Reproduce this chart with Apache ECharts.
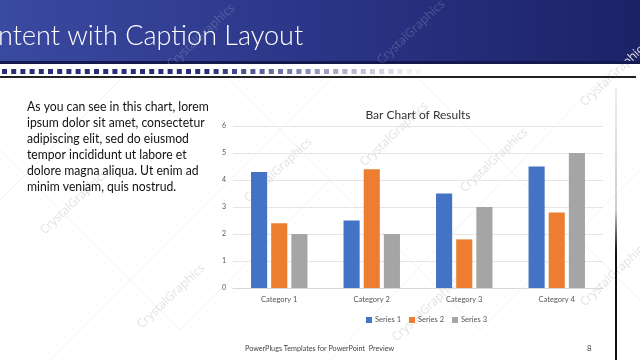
<!DOCTYPE html>
<html><head><meta charset="utf-8">
<script src="https://cdn.jsdelivr.net/npm/echarts@6/dist/echarts.min.js"></script>
<style>html,body{margin:0;padding:0;background:#fff}#c{width:640px;height:360px}</style>
</head><body><div id="c"></div>
<script>
var categories = ['Category 1', 'Category 2', 'Category 3', 'Category 4'];
var seriesNames = ['Series 1', 'Series 2', 'Series 3'];
var series1 = [4.3, 2.5, 3.5, 4.5];
var series2 = [2.4, 4.4, 1.8, 2.8];
var series3 = [2, 2, 3, 5];
var colors = ['#4472C4', '#ED7D31', '#A5A5A5'];
var headerTitle = 'ntent with Caption Layout';
var bodyLines = ['As you can see in this chart, lorem', 'ipsum dolor sit amet, consectetur', 'adipiscing elit, sed do eiusmod', 'tempor incididunt ut labore et', 'dolore magna aliqua. Ut enim ad', 'minim veniam, quis nostrud.'];
var footerText = 'PowerPlugs Templates for PowerPoint  Preview';
var pageNum = '8';
var watermark = 'CrystalGraphics';

var chart = echarts.init(document.getElementById('c'));
var g = [];
// header band
g.push({type:'rect', shape:{x:0,y:0,width:640,height:64}, z:0,
  style:{fill:new echarts.graphic.LinearGradient(0,0,1,0,[{offset:0,color:'#3a4aa0'},{offset:0.5,color:'#2b3587'},{offset:1,color:'#1c2266'}])}});
g.push({type:'rect', shape:{x:0,y:61,width:640,height:3}, z:1, style:{fill:'#141a50'}});
g.push({type:'text', x:-2, y:36, z:2, style:{text:headerTitle, fill:'#ffffff', font:'300 27px Lato', textVerticalAlign:'middle'}});
// squares row
for (var i = 0; i < 48; i++) {
  var op = i < 22 ? 1 : Math.max(0, 1 - (i - 22) / 24);
  g.push({type:'rect', shape:{x:2 + i * 9.2, y:69, width:5, height:5}, z:1, style:{fill:'#2b2f7a', opacity:op}});
}
g.push({type:'rect', shape:{x:0,y:76,width:636,height:2}, z:1, style:{fill:'#222'}});
// right vertical line
g.push({type:'rect', shape:{x:615,y:88,width:2,height:272}, z:1,
  style:{fill:new echarts.graphic.LinearGradient(0,0,0,1,[{offset:0,color:'#eeeeee'},{offset:0.45,color:'#cccccc'},{offset:0.6,color:'#111'},{offset:1,color:'#111'}])}});
// body text
for (var j = 0; j < bodyLines.length; j++) {
  g.push({type:'text', x:27, y:106 + j * 16, scaleX:0.87, z:3, style:{text:bodyLines[j], fill:'#111', font:'14px Lato', textVerticalAlign:'middle'}});
}
// footer
g.push({type:'text', x:245, y:348, scaleX:0.9, z:3, style:{text:footerText, fill:'#444', font:'8px Lato', textVerticalAlign:'middle'}});
g.push({type:'text', x:587, y:348, z:3, style:{text:pageNum, fill:'#444', font:'8px Lato', textVerticalAlign:'middle'}});
// watermark diagonal lines
var wl = [[0,150,180,330],[180,330,330,180],[230,80,480,330],[480,330,640,170],[330,80,0,410],[420,80,640,300],[600,80,330,360],[120,80,0,200]];
wl.forEach(function(l){ g.push({type:'line', shape:{x1:l[0],y1:l[1],x2:l[2],y2:l[3]}, z:0, style:{stroke:'#f2f2f2', lineWidth:1}}); });
// watermark texts
var wt = [[38,228],[242,196],[358,160],[135,322],[390,335],[458,186],[578,100],[578,300]];
wt.forEach(function(p){ g.push({type:'text', x:p[0], y:p[1], rotation:Math.PI*0.24, z:0, style:{text:watermark, fill:'#e2e2e2', font:'12px "Open Sans"'}}); });
var wh = [[165,62],[375,58]];
wh.forEach(function(p){ g.push({type:'text', x:p[0], y:p[1], rotation:Math.PI*0.24, z:1, style:{text:watermark, fill:'rgba(255,255,255,0.18)', font:'12px "Open Sans"'}}); });

chart.setOption({
  animation:false,
  color:colors,
  graphic:g,
  title:{text:'Bar Chart of Results', left:413, top:104, textAlign:'center',
    textStyle:{fontFamily:'Lato', fontSize:12, fontWeight:'normal', color:'#333'}},
  legend:{data:seriesNames, left:361, top:311, icon:'rect', itemWidth:6, itemHeight:6, itemGap:8,
    textStyle:{fontFamily:'Lato', fontSize:7.5, color:'#555', padding:[0,0,0,-2]}},
  grid:{left:233, right:37, top:126, bottom:72, containLabel:false},
  xAxis:{type:'category', data:categories, axisTick:{show:false},
    axisLine:{lineStyle:{color:'#d9d9d9'}},
    axisLabel:{fontFamily:'Lato', fontSize:7.5, color:'#555', margin:8}},
  yAxis:{type:'value', min:0, max:6, interval:1, axisLine:{show:false}, axisTick:{show:false},
    splitLine:{lineStyle:{color:'#e6e6e6'}},
    axisLabel:{fontFamily:'Lato', fontSize:7, color:'#555', margin:7}},
  series:[
    {name:seriesNames[0], type:'bar', data:series1, barGap:'25%', barCategoryGap:'39%'},
    {name:seriesNames[1], type:'bar', data:series2, barGap:'25%', barCategoryGap:'39%'},
    {name:seriesNames[2], type:'bar', data:series3, barGap:'25%', barCategoryGap:'39%'}
  ]
});
</script></body></html>
